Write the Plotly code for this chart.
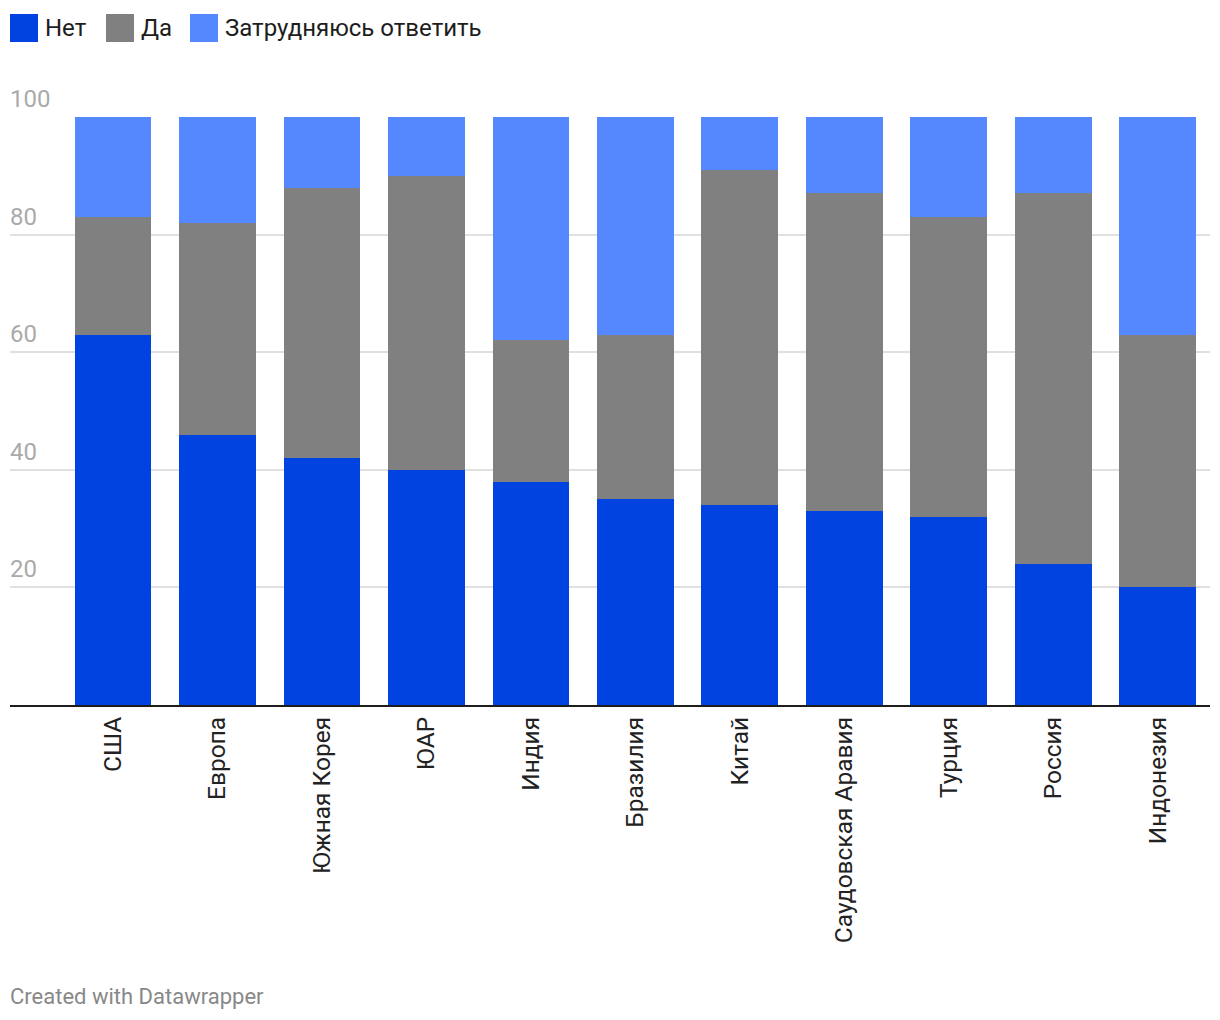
import plotly.graph_objects as go

categories = ["США", "Европа", "Южная Корея", "ЮАР", "Индия", "Бразилия", "Китай",
              "Саудовская Аравия", "Турция", "Россия", "Индонезия"]
series_names = ["Нет", "Да", "Затрудняюсь ответить"]
net = [63, 46, 42, 40, 38, 35, 34, 33, 32, 24, 20]
da = [20, 36, 46, 50, 24, 28, 57, 54, 51, 63, 43]
zatr = [17, 18, 12, 10, 38, 37, 9, 13, 17, 13, 37]
colors = ["#0043e0", "#808080", "#5588ff"]
y_ticks = [20, 40, 60, 80, 100]

FONT = "Roboto"
W, H = 1220, 1020
ML, MR, MT, MB = 10, 10, 117, 315
PW = W - ML - MR
PH = H - MT - MB

fig = go.Figure()
for name, vals, col in zip(series_names, [net, da, zatr], colors):
    fig.add_trace(go.Bar(x=list(range(len(categories))), y=vals, name=name,
                         marker=dict(color=col, line=dict(width=0)),
                         width=0.735, showlegend=False))


def px_to_paper_x(px):
    return (px - ML) / PW


def px_to_paper_y(py):
    return (H - MB - py) / PH


# custom legend
legend_x = [10, 106, 190]
for name, col, lx in zip(series_names, colors, legend_x):
    fig.add_shape(type="rect", xref="paper", yref="paper",
                  x0=px_to_paper_x(lx), x1=px_to_paper_x(lx + 28),
                  y0=px_to_paper_y(42), y1=px_to_paper_y(14),
                  fillcolor=col, line=dict(width=0))
    fig.add_annotation(text=name, xref="paper", yref="paper",
                       x=px_to_paper_x(lx + 33), y=px_to_paper_y(28),
                       xanchor="left", yanchor="middle", showarrow=False,
                       font=dict(family=FONT, size=24, color="#1d1d1d"))

# y tick labels above gridlines
for v in y_ticks:
    fig.add_annotation(text=str(v), xref="paper", yref="y",
                       x=0, y=v, xanchor="left", yanchor="bottom",
                       yshift=2, xshift=-2, showarrow=False,
                       font=dict(family=FONT, size=24, color="#aaaaaa"))

fig.add_annotation(text="Created with Datawrapper", xref="paper", yref="paper",
                   x=px_to_paper_x(10), y=px_to_paper_y(997),
                   xanchor="left", yanchor="middle", showarrow=False,
                   xshift=-2,
                   font=dict(family=FONT, size=22, color="#888888"))

fig.update_layout(
    barmode="stack",
    width=W, height=H,
    margin=dict(l=ML, r=MR, t=MT, b=MB),
    paper_bgcolor="white", plot_bgcolor="white",
    font=dict(family=FONT),
    bargap=0,
    xaxis=dict(
        range=[-0.986, 10.5],
        tickmode="array",
        tickvals=list(range(len(categories))),
        ticktext=categories,
        tickangle=-90,
        tickfont=dict(family=FONT, size=24.5, color="#222222"),
        showgrid=False, zeroline=False,
        showline=True, linecolor="#1d1d1d", linewidth=2,
        ticks="", ticklen=0,
    ),
    yaxis=dict(
        range=[0, 100],
        tickmode="array",
        tickvals=y_ticks,
        showticklabels=False,
        showgrid=True, gridcolor="#e0e0e0", gridwidth=2,
        zeroline=False, showline=False, ticks="",
    ),
)

fig.write_html("out.html", config={"displayModeBar": False},
               post_script="document.body.style.margin='0';")
